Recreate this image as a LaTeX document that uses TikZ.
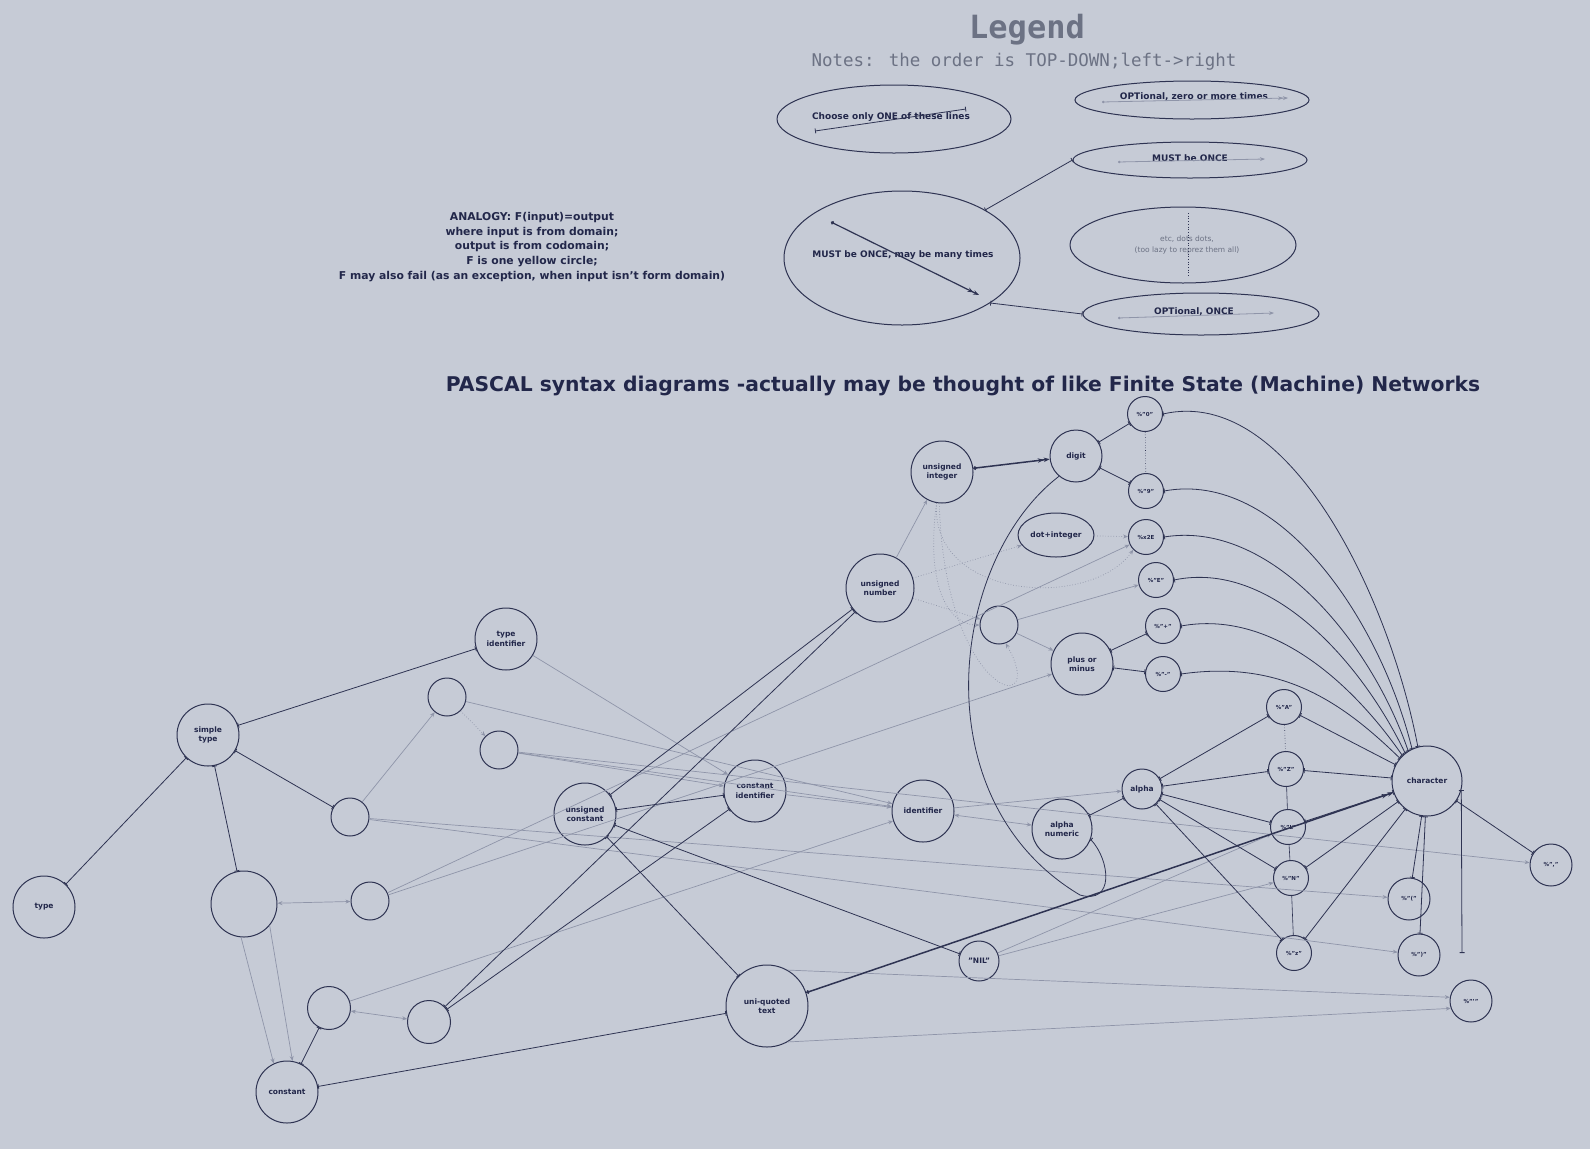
\documentclass[tikz,border=0pt]{standalone}
\usepackage{fontspec}
\usepackage{graphicx}
\setmainfont{DejaVu Sans}
\newfontfamily\monof{DejaVu Sans Mono}
\usetikzlibrary{arrows.meta,shapes.geometric}
\definecolor{bg}{HTML}{C6CBD6}
\definecolor{dk}{HTML}{2E3352}
\definecolor{lt}{HTML}{8F95A9}
\definecolor{txt}{HTML}{22274A}
\definecolor{gry}{HTML}{6C7284}
\begin{document}
\begin{tikzpicture}[x=1pt,y=-1pt,
 cn/.style={circle,draw=dk,line width=1pt,inner sep=0pt,align=center,text=txt,font=\bfseries\fontsize{7.5}{9.5}\selectfont},
 sn/.style={cn,font=\bfseries\fontsize{5.5}{7}\selectfont,minimum size=35pt},
 en/.style={cn,minimum size=38pt},
 lg/.style={ellipse,draw=dk,line width=1pt,inner sep=0pt,text=txt,align=center,font=\bfseries\fontsize{9}{11}\selectfont},
 lgt/.style={text=txt,align=center,inner sep=0pt,font=\bfseries\fontsize{9}{11}\selectfont},
 dl/.style={draw=dk,line width=0.8pt,{Bar[width=5pt]}-{Bar[width=5pt]}},
 ll/.style={draw=lt,line width=0.7pt,-{Stealth[length=5pt,width=4pt]}},
 lb/.style={draw=lt,line width=0.7pt,{Stealth[length=5pt,width=4pt]}-{Stealth[length=5pt,width=4pt]}},
 dot/.style={draw=lt,line width=0.7pt,dotted,-{Stealth[length=5pt,width=4pt]}},
 hv/.style={draw=dk,line width=1.5pt,{Circle[length=3.5pt]}-{Stealth[length=6pt]Stealth[length=6pt]}},
]
\fill[bg] (0,0) rectangle (1590,1149);
\useasboundingbox (0,0) rectangle (1590,1149);

% ---------------- Legend ----------------
\node[font=\monof\bfseries\fontsize{32}{32}\selectfont,text=gry] (legtitle) at (1027,30) {Legend};
\node[font=\monof\fontsize{17.5}{18}\selectfont,text=gry] (notes) at (1024,62) {Notes: the order is TOP-DOWN;left->right};

\node[lg,minimum width=234pt,minimum height=68pt] (choose) at (894,119) {};
\node[lgt] (choosetxt) at (891,117) {Choose only ONE of these lines};
\node[lg,minimum width=234pt,minimum height=38pt] (optzero) at (1192,100) {};
\node[lgt] (optzerotxt) at (1194,97) {OPTional, zero or more times};
\node[lg,minimum width=234pt,minimum height=36pt] (mustonce) at (1190,160) {};
\node[lgt] (mustoncetxt) at (1190,158) {MUST be ONCE};
\node[lg,minimum width=236pt,minimum height=134pt] (manytimes) at (902,258) {};
\node[lgt] (manytxt) at (903,255) {MUST be ONCE, may be many times};
\node[lg,minimum width=226pt,minimum height=76pt] (etc) at (1183,245) {};
\node[lgt,text=gry,font=\fontsize{7.5}{11}\selectfont] (etctxt) at (1187,245) {etc, dots dots,\\(too lazy to reprez them all)};
\node[lg,minimum width=236pt,minimum height=42pt] (optonce) at (1201,314) {};
\node[lgt] (optoncetxt) at (1194,312) {OPTional, ONCE};

\coordinate (ch1) at (815,131); \coordinate (ch2) at (966,109);
\draw[dl] (ch1) -- (ch2);
\coordinate (oz1) at (1102,102); \coordinate (oz2) at (1288,98);
\draw[draw=lt,line width=0.8pt,{Circle[length=2.5pt]}-{Stealth[length=5pt]Stealth[length=5pt]}] (oz1) -- (oz2);
\coordinate (mo1) at (1118,162); \coordinate (mo2) at (1265,159);
\draw[draw=lt,line width=0.8pt,{Circle[length=2.5pt]}-{Stealth[length=5pt]}] (mo1) -- (mo2);
\coordinate (mt1) at (831,222); \coordinate (mt2) at (979,295);
\draw[hv,line width=1.2pt] (mt1) -- (mt2);
\coordinate (et1) at (1188,213); \coordinate (et2) at (1188,277);
\draw[dk,line width=0.7pt,dotted] (et1) -- (et2);
\coordinate (oo1) at (1118,318); \coordinate (oo2) at (1274,313);
\draw[draw=lt,line width=0.8pt,{Circle[length=2.5pt]}-{Stealth[length=5pt]}] (oo1) -- (oo2);
\draw[dl] (manytimes.30) -- (mustonce.west);
\draw[dl] (manytimes.-27) -- (optonce.west);

% ---------------- Analogy ----------------
\node[align=center,font=\bfseries\fontsize{10.8}{14.8}\selectfont,text=txt] (analogy) at (532,247)
 {ANALOGY: F(input)=output\\where input is from domain;\\output is from codomain;\\F is one yellow circle;\\F may also fail (as an exception, when input isn't form domain)};

% ---------------- Title ----------------
\node[text=txt,inner sep=0pt] (title) at (963,386) {\resizebox{1034pt}{!}{\bfseries PASCAL syntax diagrams -actually may be thought of like Finite State (Machine) Networks}};

% ---------------- Graph nodes ----------------
\node[cn,minimum size=62pt] (type) at (44,907) {type};
\node[cn,minimum size=62pt] (simpletype) at (208,735) {simple\\type};
\node[cn,minimum size=62pt] (typeid) at (506,639) {type\\identifier};
\node[en] (nA) at (447,697) {};
\node[en] (nB) at (499,750) {};
\node[en] (nC) at (350,817) {};
\node[cn,minimum size=66pt] (nD) at (244,904) {};
\node[en] (nE) at (370,901) {};
\node[cn,minimum size=43pt] (nF) at (329,1008) {};
\node[cn,minimum size=43pt] (nG) at (429,1022) {};
\node[cn,minimum size=62pt] (constant) at (287,1092) {constant};
\node[cn,minimum size=62pt] (uconst) at (585,814) {unsigned\\constant};
\node[cn,minimum size=62pt] (constid) at (755,791) {constant\\identifier};
\node[cn,minimum size=62pt] (ident) at (923,811) {identifier};
\node[cn,minimum size=82pt] (uqtext) at (767,1006) {uni-quoted\\text};
\node[cn,minimum size=40pt] (nil) at (979,961) {"NIL"};
\node[cn,minimum size=68pt] (unum) at (880,588) {unsigned\\number};
\node[cn,minimum size=62pt] (uint) at (942,472) {unsigned\\integer};
\node[cn,minimum size=52pt] (digit) at (1076,456) {digit};
\node[cn,ellipse,minimum width=76pt,minimum height=44pt] (dotint) at (1056,535) {dot+integer};
\node[en] (nH) at (999,625) {};
\node[cn,minimum size=62pt] (pm) at (1082,664) {plus or\\minus};
\node[cn,minimum size=60pt] (alnum) at (1062,829) {alpha\\numeric};
\node[cn,minimum size=40pt] (alpha) at (1142,789) {alpha};
\node[sn] (c0) at (1145,414) {\%"0"};
\node[sn] (c9) at (1146,491) {\%"9"};
\node[sn] (c2E) at (1146,537) {\%x2E};
\node[sn] (cE) at (1156,580) {\%"E"};
\node[sn] (cplus) at (1163,626) {\%"+"};
\node[sn] (cminus) at (1163,674) {\%"-"};
\node[sn] (cA) at (1284,707) {\%"A"};
\node[sn] (cZ) at (1286,769) {\%"Z"};
\node[sn] (cL) at (1288,827) {\%"L"};
\node[sn] (cN) at (1291,878) {\%"N"};
\node[sn] (cz) at (1294,953) {\%"z"};
\node[cn,minimum size=70pt] (character) at (1427,781) {character};
\node[sn,minimum size=42pt] (ccomma) at (1551,865) {\%","};
\node[sn,minimum size=42pt] (clp) at (1409,899) {\%"("};
\node[sn,minimum size=42pt] (crp) at (1419,955) {\%")"};
\node[sn,minimum size=42pt] (cq) at (1471,1001) {\%"'"};
\coordinate (fe) at (1462,953);

% ---------------- light connectors ----------------
\draw[ll] (nD.-95) -- (constant.115);
\draw[ll] (nD.-40) -- (constant.80);
\draw[lb] (nD) -- (nE);
\draw[lb] (nF) -- (nG);
\draw[ll] (typeid) -- (constid);
\draw[ll] (nC) -- (nA);
\draw[dot] (nA) -- (nB);
\draw[ll] (nA) -- (ident);
\draw[ll] (nB) -- (constid);
\draw[ll] (nB) -- (ident);
\draw[ll] (nB) -- (ccomma);
\draw[ll] (nC) -- (clp);
\draw[ll] (nC) -- (crp);
\draw[ll] (nE) -- (c2E);
\draw[ll] (nE) -- (pm);
\draw[ll] (nF) -- (ident);
\draw[ll] (constid) -- (ident);
\draw[lb] (ident) -- (alnum);
\draw[ll] (ident) -- (alpha);
\draw[ll] (unum) -- (uint);
\draw[dot] (unum) -- (dotint);
\draw[dot] (unum) -- (nH);
\draw[dot] (dotint) -- (c2E);
\draw[ll] (nH) -- (pm);
\draw[ll] (nH) -- (cE);
\draw[dot] (uint.-100) .. controls (930,600) and (1090,610) .. (c2E.-135);
\draw[dot] (uint.-100) .. controls (925,590) and (950,625) .. (nH.west);
\draw[dot] (uint.-95) .. controls (945,700) and (1050,720) .. (nH.-70);
\draw[ll] (nil) -- (cL);
\draw[ll] (nil) -- (cN);
\draw[ll] (uqtext.60) -- (cq.170);
\draw[ll] (uqtext.-60) -- (cq.200);

% ---------------- dark connectors ----------------
\draw[dl] (type) -- (simpletype);
\draw[dl] (simpletype) -- (typeid);
\draw[dl] (simpletype) -- (nC);
\draw[dl] (simpletype) -- (nD);
\draw[dl] (constant) -- (nF);
\draw[dl] (constant) -- (uqtext);
\draw[dl] (nG) -- (unum);
\draw[dl] (nG) -- (constid);
\draw[dl] (uconst) -- (unum);
\draw[dl] (uconst) -- (constid);
\draw[dl] (uconst) -- (uqtext);
\draw[dl] (uconst) -- (nil);
\draw[hv] (uqtext) -- (character);
\draw[hv] (uint) -- (digit);
\draw[dl] (digit) -- (c0);
\draw[dl] (digit) -- (c9);
\draw[dk,line width=0.6pt,dotted] (c0) -- (c9);
\draw[dl] (pm) -- (cplus);
\draw[dl] (pm) -- (cminus);
\draw[dl] (alnum) -- (alpha);
\foreach \n in {cA,cZ,cL,cN,cz} {\draw[dl] (alpha) -- (\n); \draw[dl] (\n) -- (character);}
\draw[dk,line width=0.6pt,dotted] (cA) -- (cZ);
\draw[dk,line width=0.6pt] (cZ) -- (cL) -- (cN) -- (cz);
\draw[dl] (c0.east) .. controls (1290,385) and (1390,600) .. (character.105);
\draw[dl] (c9.east) .. controls (1280,470) and (1380,620) .. (character.115);
\draw[dl] (c2E.east) .. controls (1270,520) and (1370,640) .. (character.122);
\draw[dl] (cE.east) .. controls (1270,560) and (1360,660) .. (character.128);
\draw[dl] (cplus.east) .. controls (1270,610) and (1350,680) .. (character.134);
\draw[dl] (cminus.east) .. controls (1280,660) and (1340,700) .. (character.140);
\draw[dl] (character) -- (ccomma);
\draw[dl] (character) -- (clp);
\draw[dl] (character) -- (crp);
\draw[dl] (character.-15) -- (fe);
\draw[draw=dk,line width=0.8pt,-{Bar[width=5pt]}] (digit.230) .. controls (950,560) and (920,800) .. (1080,895) .. controls (1115,905) and (1110,860) .. (alnum.-20);
\end{tikzpicture}
\end{document}
